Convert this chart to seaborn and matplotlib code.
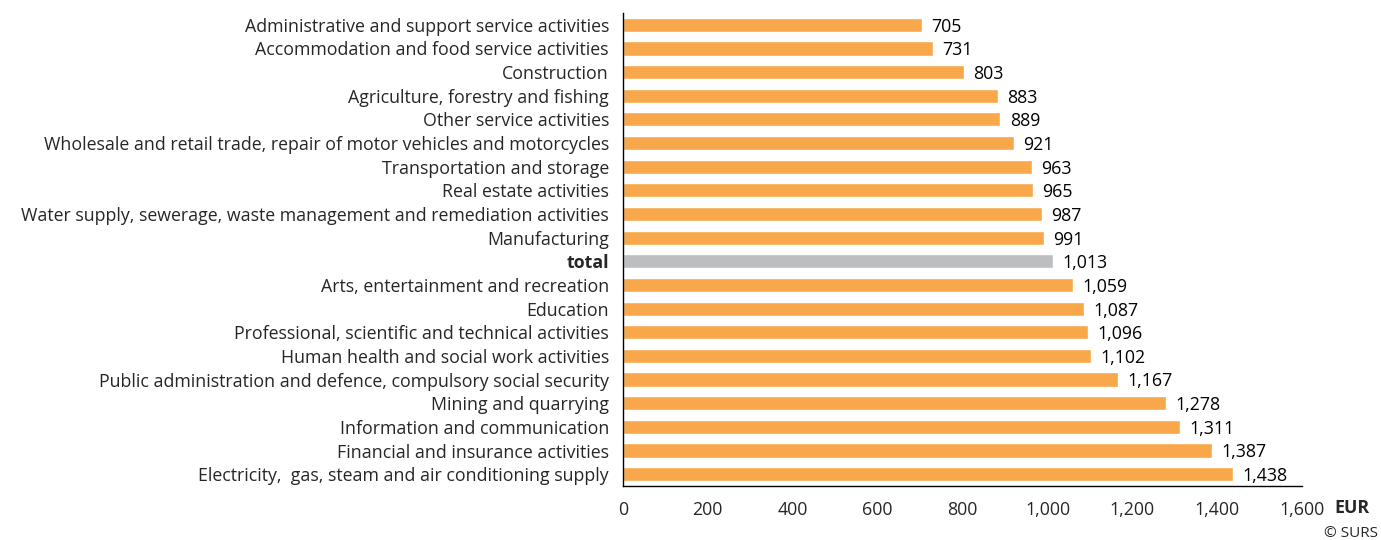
import pandas as pd
import matplotlib
matplotlib.use("Agg")
import matplotlib.pyplot as plt
import seaborn as sns

# Data
categories = [
    "Administrative and support service activities",
    "Accommodation and food service activities",
    "Construction",
    "Agriculture, forestry and fishing",
    "Other service activities",
    "Wholesale and retail trade, repair of motor vehicles and motorcycles",
    "Transportation and storage",
    "Real estate activities",
    "Water supply, sewerage, waste management and remediation activities",
    "Manufacturing",
    "total",
    "Arts, entertainment and recreation",
    "Education",
    "Professional, scientific and technical activities",
    "Human health and social work activities",
    "Public administration and defence, compulsory social security",
    "Mining and quarrying",
    "Information and communication",
    "Financial and insurance activities",
    "Electricity,  gas, steam and air conditioning supply",
]
values = [705, 731, 803, 883, 889, 921, 963, 965, 987, 991,
          1013, 1059, 1087, 1096, 1102, 1167, 1278, 1311, 1387, 1438]
x_ticks = [0, 200, 400, 600, 800, 1000, 1200, 1400, 1600]

df = pd.DataFrame({"category": categories, "value": values})
orange = "#F9A74B"
grey = "#BDBEC0"
palette = [grey if c == "total" else orange for c in categories]

sns.set_theme(style="white")
plt.rcParams["font.family"] = ["Open Sans", "DejaVu Sans"]
fs = 12.8

fig = plt.figure(figsize=(13.81, 5.4), dpi=100)
ax = fig.add_axes([0.451, 0.1, 0.492, 0.876])

sns.barplot(data=df, y="category", x="value", hue="category", palette=palette,
            legend=False, width=0.6, ax=ax, saturation=1)

for i, v in enumerate(values):
    ax.text(v + 22, i + 0.08, f"{v:,}", va="center", ha="left", fontsize=fs, color="black")

ax.set_xlim(0, 1600)
ax.set_ylim(19.5, -0.5)
ax.set_xticks(x_ticks)
ax.set_xticklabels([f"{t:,}" for t in x_ticks], fontsize=fs)
ax.set_xlabel("")
ax.set_ylabel("")
ax.tick_params(axis="y", length=0, labelsize=fs, pad=10)
ax.tick_params(axis="x", length=6, width=1, direction="out", color="black", pad=5)
for lbl in ax.get_yticklabels():
    if lbl.get_text() == "total":
        lbl.set_fontweight("bold")

for side in ["top", "right"]:
    ax.spines[side].set_visible(False)
for side in ["left", "bottom"]:
    ax.spines[side].set_color("black")
    ax.spines[side].set_linewidth(1)

fig.text(0.966, 0.059, "EUR", fontsize=fs, fontweight="bold", ha="left", va="center")
fig.text(0.998, 0.012, "© SURS", fontsize=11, ha="right", va="center")

fig.savefig("out.png", dpi=100)
